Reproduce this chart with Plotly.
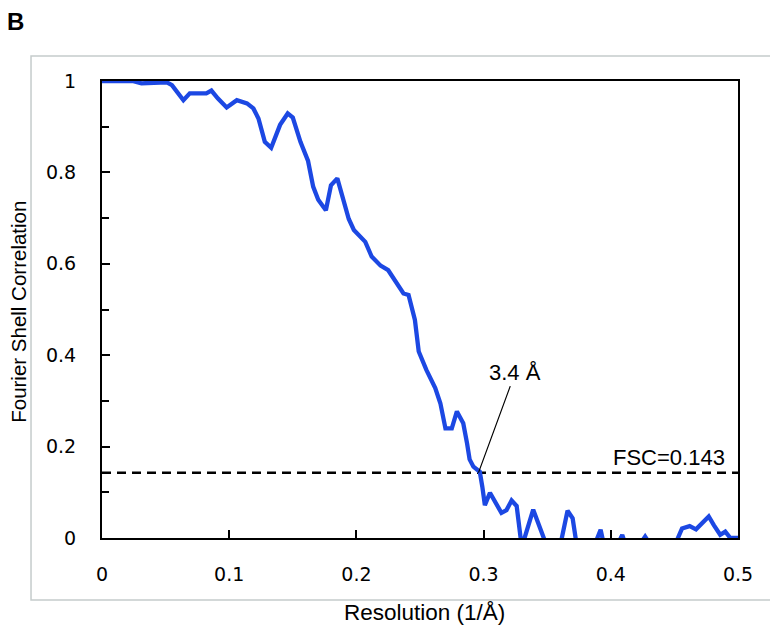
import plotly.graph_objects as go

# FSC curve (resolution in 1/Å, correlation)
res = [0.000, 0.024, 0.031, 0.051, 0.055, 0.064, 0.069, 0.082, 0.086, 0.091,
       0.098, 0.106, 0.114, 0.119, 0.123, 0.128, 0.133, 0.140, 0.146, 0.150,
       0.156, 0.162, 0.166, 0.170, 0.176, 0.180, 0.185, 0.190, 0.194, 0.198,
       0.207, 0.212, 0.219, 0.225, 0.231, 0.237, 0.241, 0.246, 0.249, 0.255,
       0.262, 0.266, 0.270, 0.275, 0.279, 0.284, 0.287, 0.289, 0.292, 0.297,
       0.299, 0.301, 0.305, 0.309, 0.314, 0.318, 0.322, 0.326, 0.330, 0.339,
       0.350, 0.360, 0.366, 0.370, 0.374, 0.388, 0.392, 0.395, 0.407, 0.409,
       0.411, 0.425, 0.427, 0.430, 0.452, 0.456, 0.462, 0.467, 0.477, 0.481,
       0.486, 0.490, 0.494, 0.500]
fsc = [1.000, 1.000, 0.995, 0.997, 0.991, 0.958, 0.973, 0.973, 0.979, 0.962,
       0.942, 0.958, 0.951, 0.940, 0.918, 0.867, 0.854, 0.904, 0.929, 0.920,
       0.867, 0.825, 0.769, 0.740, 0.717, 0.772, 0.787, 0.740, 0.698, 0.674,
       0.648, 0.616, 0.596, 0.586, 0.562, 0.535, 0.532, 0.477, 0.408, 0.368,
       0.328, 0.295, 0.240, 0.240, 0.277, 0.251, 0.207, 0.172, 0.156, 0.145,
       0.112, 0.072, 0.099, 0.079, 0.055, 0.061, 0.082, 0.070, -0.020, 0.062,
       -0.020, -0.020, 0.060, 0.043, -0.030, -0.010, 0.018, -0.020, -0.005, 0.007,
       -0.010, -0.005, 0.003, -0.010, -0.005, 0.021, 0.026, 0.019, 0.047, 0.028,
       0.007, 0.014, 0.000, 0.000]

threshold_x = [0.0, 0.5]
threshold_y = [0.143, 0.143]

x_ticks = [0, 0.1, 0.2, 0.3, 0.4, 0.5]
x_tick_labels = ["0", "0.1", "0.2", "0.3", "0.4", "0.5"]
y_ticks = [0, 0.2, 0.4, 0.6, 0.8, 1.0]
y_tick_labels = ["0", "0.2", "0.4", "0.6", "0.8", "1"]

fig = go.Figure()
fig.add_trace(go.Scatter(x=threshold_x, y=threshold_y, mode="lines",
                         line=dict(color="black", width=2.5, dash="9px,6px"),
                         showlegend=False, hoverinfo="skip"))
fig.add_trace(go.Scatter(x=res, y=fsc, mode="lines",
                         line=dict(color="#1c48e3", width=4.3),
                         showlegend=False))

tick_font = dict(family="DejaVu Sans, sans-serif", size=19, color="black")
text_font = dict(family="Liberation Sans, Arial, sans-serif", size=22, color="black")

fig.update_xaxes(range=[0, 0.5], tickvals=x_ticks, ticktext=x_tick_labels,
                 ticks="inside", ticklen=8, tickwidth=1.5, tickcolor="black",
                 showline=True, linecolor="black", linewidth=2, mirror=True,
                 showgrid=False, zeroline=False, tickfont=tick_font,
                 ticklabelstandoff=18)
fig.update_yaxes(range=[0, 1], tickvals=y_ticks, ticktext=y_tick_labels,
                 ticks="inside", ticklen=8, tickwidth=1.5, tickcolor="black",
                 minor=dict(dtick=0.1, ticks="inside", ticklen=7, tickwidth=1.5, tickcolor="black"),
                 showline=True, linecolor="black", linewidth=2, mirror=True,
                 showgrid=False, zeroline=False, tickfont=tick_font,
                 ticklabelstandoff=20)

fig.add_annotation(x=0.296, y=0.143, ax=0.325, ay=0.363, xref="x", yref="y",
                   axref="x", ayref="y", text="3.4 Å", showarrow=True,
                   arrowhead=0, arrowwidth=1.2, arrowcolor="black",
                   font=text_font)
fig.add_annotation(x=0.4914, y=0.177, xref="x", yref="y", text="FSC=0.143",
                   showarrow=False, xanchor="right", yanchor="middle",
                   font=text_font)

# paper coords: plot area spans 636 x 457 px
fig.add_annotation(x=-0.1305, y=0.495, xref="paper", yref="paper",
                   text="Fourier Shell Correlation", textangle=-90,
                   xanchor="center", yanchor="middle", showarrow=False,
                   font=dict(family="Liberation Sans, Arial, sans-serif", size=20.5, color="black"))
fig.add_annotation(x=0.507, y=-0.164, xref="paper", yref="paper",
                   text="Resolution (1/Å)", showarrow=False,
                   xanchor="center", yanchor="middle",
                   font=dict(family="Liberation Sans, Arial, sans-serif", size=22.5, color="black"))
fig.add_annotation(x=-0.152, y=1.131, xref="paper", yref="paper",
                   text="<b>B</b>", showarrow=False, xanchor="left", yanchor="middle",
                   font=dict(family="Liberation Sans, Arial, sans-serif", size=24, color="black"))

fig.add_shape(type="rect", xref="paper", yref="paper",
              x0=-0.1116, x1=1.0597, y0=-0.1357, y1=1.0547,
              line=dict(color="#c5cccc", width=1.5), layer="below")

# page body has an 8px margin, so the figure is 8px smaller and shifted
fig.update_layout(width=770, height=627,
                  margin=dict(l=94, r=40, t=73, b=97),
                  plot_bgcolor="white", paper_bgcolor="white")

fig.write_html("out.html")
